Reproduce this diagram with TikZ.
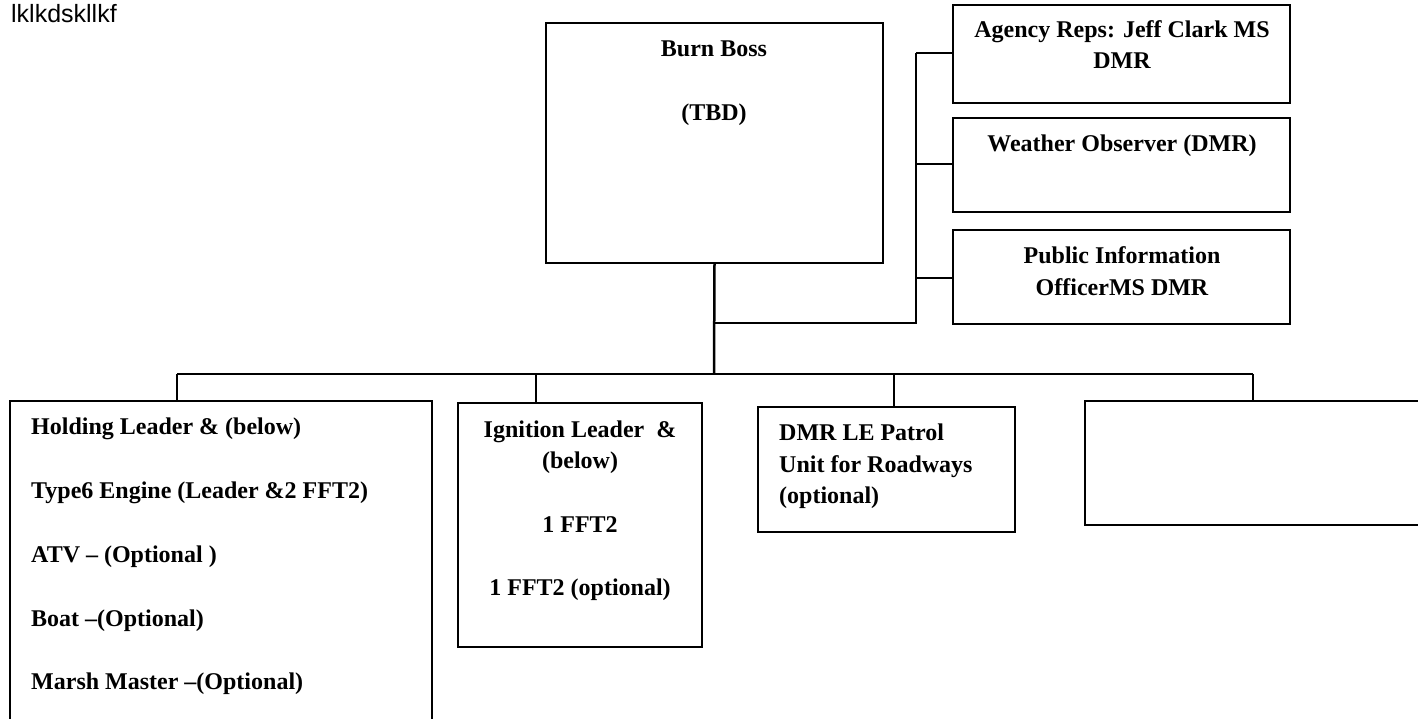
\documentclass[tikz,border=0pt]{standalone}
\usepackage{fontspec}
\setmainfont{Liberation Serif}
\newfontfamily\arialfont{Liberation Sans}
\begin{document}
\begin{tikzpicture}[x=1pt,y=-1pt,
  box/.style={draw,line width=2.5pt,inner sep=0pt,outer sep=0pt,anchor=north west},
  wire/.style={line width=2.5pt},
  lbl/.style={inner sep=0pt,anchor=base,font=\fontsize{24}{31.5}\selectfont\bfseries},
  lblw/.style={inner sep=0pt,anchor=base west,font=\fontsize{24}{31.5}\selectfont\bfseries}]
\clip (0,0) rectangle (1418,719);
\fill[white] (0,0) rectangle (1418,719);
% top-left note
\node[inner sep=0pt,anchor=base west,font=\arialfont\fontsize{25}{30}\selectfont] (note) at (11,23) {lklkdskllkf};
% boxes
\node[box,minimum width=337pt,minimum height=240pt] (boss) at (546,23) {};
\node[box,minimum width=337pt,minimum height=98pt] (agency) at (953,5) {};
\node[box,minimum width=337pt,minimum height=94pt] (weather) at (953,118) {};
\node[box,minimum width=337pt,minimum height=94pt] (public) at (953,230) {};
\node[box,minimum width=422pt,minimum height=400pt] (holding) at (10,401) {};
\node[box,minimum width=244pt,minimum height=244pt] (ignition) at (458,403) {};
\node[box,minimum width=257pt,minimum height=125pt] (patrol) at (758,407) {};
\node[box,minimum width=400pt,minimum height=124pt] (blank) at (1085,401) {};
% texts
\node[lbl] (bossA) at (714,57) {Burn Boss};
\node[lbl] (bossB) at (714,121) {(TBD)};
\node[lbl] (agencyA) at (1122,38) {Agency Reps: Jeff Clark MS};
\node[lbl] (agencyB) at (1122,69) {DMR};
\node[lbl] (weatherA) at (1122,152) {Weather Observer (DMR)};
\node[lbl] (publicA) at (1122,263) {Public Information};
\node[lbl] (publicB) at (1122,295) {OfficerMS DMR};
\node[lblw] (h1) at (31,434) {Holding Leader \& (below)};
\node[lblw] (h2) at (31,498) {Type6 Engine (Leader \&2 FFT2)};
\node[lblw] (h3) at (31,562) {ATV -- (Optional )};
\node[lblw] (h4) at (31,626) {Boat --(Optional)};
\node[lblw] (h5) at (31,689) {Marsh Master --(Optional)};
\node[lbl] (i1) at (580,437) {Ignition Leader\ \ \&};
\node[lbl] (i2) at (580,468) {(below)};
\node[lbl] (i3) at (580,532) {1 FFT2};
\node[lbl] (i4) at (580,595) {1 FFT2 (optional)};
\node[lblw] (p1) at (779,440) {DMR LE Patrol};
\node[lblw] (p2) at (779,472) {Unit for Roadways};
\node[lblw] (p3) at (779,503) {(optional)};
% junctions
\coordinate (jside) at (714,323);
\coordinate (jbus) at (714,374);
\coordinate (sbot) at (916,323);
\coordinate (stop) at (916,53);
\coordinate (busL) at (177,374);
\coordinate (busR) at (1253,374);
% connectors
\draw[wire] (boss.south) -- (jbus);
\draw[wire] (jside) -- (sbot) -- (stop);
\draw[wire] (stop) -- (stop -| agency.west);
\draw[wire] (916,164) -- (weather.west |- 0,164);
\draw[wire] (916,278) -- (public.west |- 0,278);
\draw[wire] (busL) -- (busR);
\draw[wire] (busL) -- (busL |- holding.north);
\draw[wire] (536,374) -- (536,403);
\draw[wire] (894,374) -- (894,407);
\draw[wire] (busR) -- (busR |- blank.north);
\end{tikzpicture}
\end{document}
